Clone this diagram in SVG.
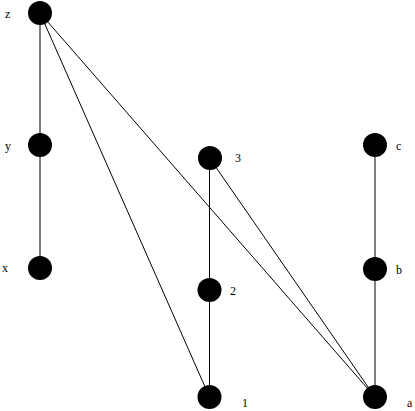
<svg xmlns="http://www.w3.org/2000/svg" width="415" height="411" viewBox="0 0 415 411">
<style>
.n{fill:#000}
.l{font-family:"Liberation Serif","Times New Roman",serif;font-size:12px;fill:#000}
.e line{stroke:#000;stroke-width:1}
</style>
<rect width="415" height="411" fill="#fff"/>
<g class="e" id="edges">
<line x1="40" y1="13" x2="40" y2="145"/>
<line x1="40" y1="145" x2="40" y2="268"/>
<line x1="40" y1="13" x2="209.5" y2="397"/>
<line x1="40" y1="13" x2="375" y2="397"/>
<line x1="209.5" y1="158" x2="209.5" y2="290"/>
<line x1="209.5" y1="290" x2="209.5" y2="397"/>
<line x1="209.5" y1="158" x2="375" y2="397"/>
<line x1="375" y1="145" x2="375" y2="269"/>
<line x1="375" y1="269" x2="375" y2="397"/>
</g>
<g id="z"><circle class="n" cx="40" cy="13" r="12"/><text class="l" x="5" y="18">z</text></g>
<g id="y"><circle class="n" cx="40" cy="145" r="12"/><text class="l" x="5" y="150">y</text></g>
<g id="x"><circle class="n" cx="40" cy="268" r="12"/><text class="l" x="2" y="272">x</text></g>
<g id="n3"><circle class="n" cx="210" cy="158" r="12"/><text class="l" x="235" y="162">3</text></g>
<g id="n2"><circle class="n" cx="209.5" cy="290" r="12"/><text class="l" x="230" y="295">2</text></g>
<g id="n1"><circle class="n" cx="209.5" cy="397" r="12"/><text class="l" x="242" y="407">1</text></g>
<g id="c"><circle class="n" cx="375" cy="145" r="12"/><text class="l" x="396" y="150">c</text></g>
<g id="b"><circle class="n" cx="375" cy="269" r="12"/><text class="l" x="396" y="274">b</text></g>
<g id="a"><circle class="n" cx="375" cy="397" r="12"/><text class="l" x="407" y="407">a</text></g>
</svg>
